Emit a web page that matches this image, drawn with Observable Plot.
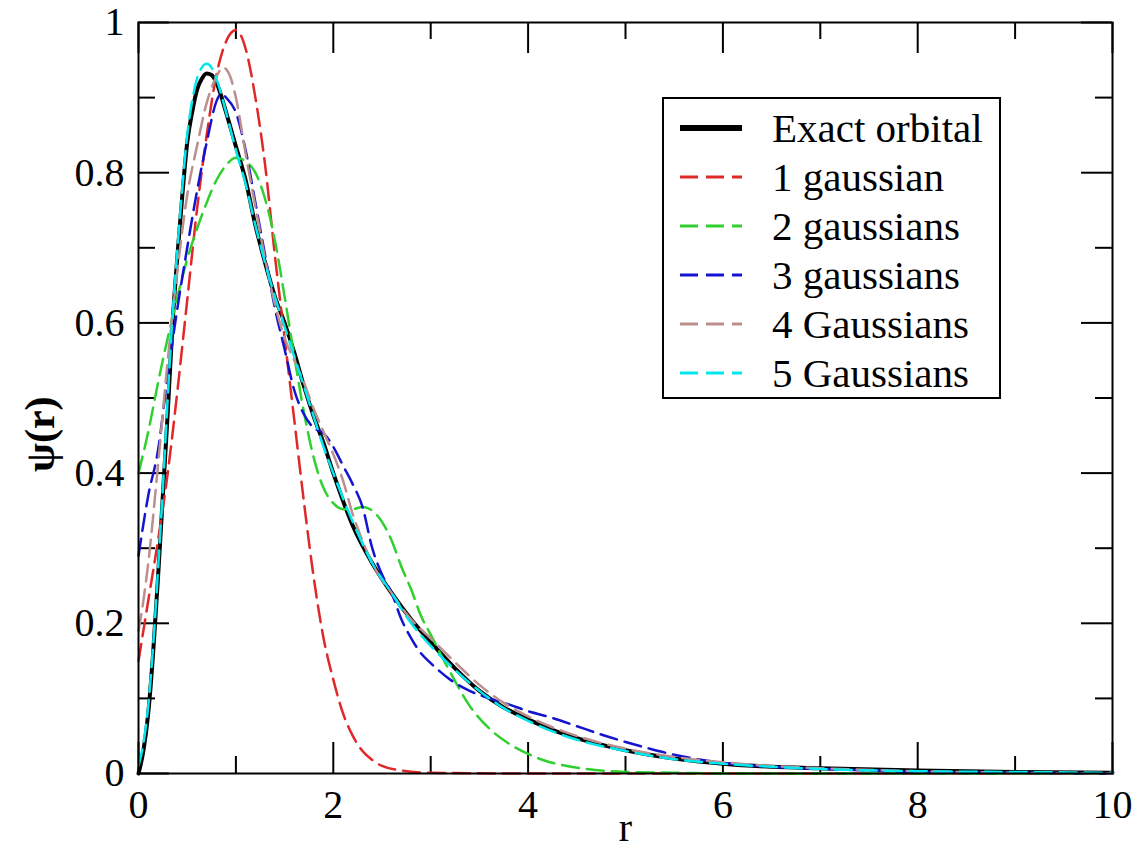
<!DOCTYPE html>
<html><head><meta charset="utf-8">
<script src="https://cdn.jsdelivr.net/npm/d3@7"></script>
<script src="https://cdn.jsdelivr.net/npm/@observablehq/plot@0.6"></script>
<style>body{margin:0;background:#fff}</style>
</head><body><div id="chart"></div>
<script>
const seriesNames = ["Exact orbital","1 gaussian","2 gaussians","3 gaussians","4 Gaussians","5 Gaussians"];
const seriesColors = ["#000000","#e02828","#30d030","#1414d0","#bc8f8f","#00e8ee"];
const xMajorTicks = [0,2,4,6,8,10];
const xMinorTicks = [1,3,5,7,9];
const yMajorTicks = [0,0.2,0.4,0.6,0.8,1];
const yMinorTicks = [0.1,0.3,0.5,0.7,0.9];

const rExact   = [0,0.05,0.1,0.15,0.2,0.25,0.3,0.35,0.4,0.45,0.5,0.55,0.6,0.65,0.7,0.75,0.8,0.9,1.0,1.1,1.2,1.3,1.4,1.5,1.6,1.7,1.8,1.9,2.0,2.2,2.4,2.6,2.8,3.0,3.25,3.5,3.75,4.0,4.25,4.5,5,5.5,6,6.5,7,8,9,10];
const psiExact = [0,0.03,0.08,0.16,0.26,0.37,0.48,0.6,0.69,0.77,0.84,0.88,0.91,0.925,0.932,0.93,0.92,0.88,0.835,0.79,0.73,0.68,0.635,0.6,0.56,0.515,0.475,0.44,0.4,0.33,0.28,0.24,0.205,0.175,0.14,0.11,0.088,0.072,0.058,0.047,0.031,0.02,0.013,0.009,0.007,0.004,0.002,0.001];

const rOne   = [0,0.1,0.2,0.3,0.4,0.5,0.6,0.7,0.8,0.9,1.0,1.1,1.2,1.3,1.4,1.5,1.6,1.7,1.8,1.9,2.0,2.1,2.2,2.3,2.4,2.5,2.7,3.0,4.0,10];
const psiOne = [0.15,0.23,0.31,0.4,0.51,0.63,0.75,0.85,0.93,0.975,0.99,0.965,0.9,0.81,0.69,0.58,0.47,0.36,0.26,0.18,0.125,0.08,0.05,0.03,0.018,0.01,0.004,0.001,0,0];

const rTwo   = [0,0.1,0.2,0.3,0.4,0.5,0.6,0.7,0.8,0.9,1.0,1.1,1.2,1.3,1.4,1.5,1.6,1.7,1.8,1.9,2.0,2.1,2.2,2.3,2.4,2.5,2.6,2.7,2.8,2.9,3.0,3.2,3.4,3.6,3.8,4.0,4.2,4.4,4.6,5.0,5.5,6,10];
const psiTwo = [0.40,0.455,0.52,0.58,0.635,0.685,0.725,0.76,0.79,0.81,0.82,0.815,0.8,0.765,0.71,0.635,0.555,0.48,0.42,0.38,0.36,0.352,0.352,0.355,0.35,0.335,0.31,0.275,0.245,0.21,0.185,0.135,0.09,0.06,0.04,0.026,0.016,0.01,0.006,0.002,0.001,0,0];

const rThree   = [0,0.1,0.2,0.3,0.4,0.5,0.6,0.7,0.8,0.85,0.9,1.0,1.1,1.2,1.3,1.4,1.5,1.6,1.7,1.8,1.9,2.0,2.1,2.2,2.3,2.4,2.5,2.6,2.7,2.8,2.9,3.0,3.2,3.4,3.6,3.8,4.0,4.25,4.5,4.75,5.0,5.25,5.5,6,6.5,7,7.5,8,9,10];
const psiThree = [0.29,0.37,0.43,0.53,0.62,0.7,0.775,0.84,0.895,0.905,0.9,0.88,0.83,0.76,0.69,0.62,0.565,0.51,0.478,0.46,0.453,0.435,0.41,0.385,0.355,0.3,0.265,0.24,0.205,0.18,0.16,0.147,0.125,0.11,0.1,0.092,0.083,0.074,0.063,0.052,0.042,0.033,0.025,0.014,0.009,0.006,0.004,0.002,0.001,0];

const rFour   = [0,0.05,0.1,0.2,0.3,0.4,0.5,0.6,0.7,0.8,0.87,0.95,1.0,1.1,1.2,1.3,1.4,1.5,1.6,1.7,1.8,1.9,2.0,2.1,2.2,2.3,2.4,2.6,2.8,3.0,3.25,3.5,3.75,4.0,4.5,5,5.5,6,6.5,7,8,9,10];
const psiFour = [0.19,0.23,0.28,0.41,0.55,0.67,0.77,0.835,0.893,0.928,0.94,0.925,0.9,0.825,0.755,0.685,0.625,0.58,0.55,0.52,0.485,0.455,0.425,0.39,0.345,0.31,0.28,0.24,0.205,0.18,0.148,0.118,0.094,0.076,0.05,0.033,0.022,0.015,0.01,0.007,0.003,0.001,0];

const rFive   = [0,0.05,0.1,0.15,0.2,0.25,0.3,0.35,0.4,0.45,0.5,0.55,0.6,0.65,0.7,0.75,0.8,0.9,1.0,1.1,1.2,1.3,1.4,1.5,1.6,1.7,1.8,1.9,2.0,2.2,2.4,2.6,2.8,3.0,3.25,3.5,3.75,4.0,4.25,4.5,5,5.5,6,6.5,7,8,9,10];
const psiFive = [0.01,0.04,0.09,0.17,0.27,0.38,0.5,0.61,0.7,0.78,0.85,0.895,0.925,0.94,0.945,0.94,0.925,0.88,0.83,0.785,0.73,0.68,0.635,0.595,0.555,0.515,0.475,0.435,0.4,0.335,0.28,0.24,0.2,0.17,0.138,0.11,0.087,0.07,0.056,0.045,0.03,0.019,0.013,0.009,0.006,0.003,0.002,0.001];

const rSets = [rExact,rOne,rTwo,rThree,rFour,rFive];
const psiSets = [psiExact,psiOne,psiTwo,psiThree,psiFour,psiFive];
const seriesData = rSets.map((rs,i)=>rs.map((r,j)=>({r, psi: psiSets[i][j], s: seriesNames[i]})));

const W=1148,H=851,mL=138,mR=36,mT=22,mB=78;
const ph=H-mT-mB, pw=W-mL-mR;
const majorLen=31, minorLen=17;
const dash="17,8";
const serif="'Liberation Serif', 'Times New Roman', serif";

const lineMarks = seriesData.map((d,i)=>Plot.line(d,{
  x:"r", y:"psi", curve:"monotone-x",
  stroke: seriesColors[i],
  strokeWidth: i===0 ? 4 : 2.5,
  strokeDasharray: i===0 ? null : dash
}));

const tickStyle={stroke:"#000",strokeWidth:2};
const plot = Plot.plot({
  width:W, height:H, marginLeft:mL, marginRight:mR, marginTop:mT, marginBottom:mB,
  style:{fontFamily:serif, fontSize:"40px", background:"#fff", color:"#000"},
  x:{domain:[0,10]}, y:{domain:[0,1]},
  marks:[
    Plot.ruleX(xMajorTicks,{x:d=>d, insetTop:ph-majorLen, ...tickStyle}),
    Plot.ruleX(xMajorTicks,{x:d=>d, insetBottom:ph-majorLen, ...tickStyle}),
    Plot.ruleX(xMinorTicks,{x:d=>d, insetTop:ph-minorLen, ...tickStyle}),
    Plot.ruleX(xMinorTicks,{x:d=>d, insetBottom:ph-minorLen, ...tickStyle}),
    Plot.ruleY(yMajorTicks,{y:d=>d, insetRight:pw-majorLen, ...tickStyle}),
    Plot.ruleY(yMajorTicks,{y:d=>d, insetLeft:pw-majorLen, ...tickStyle}),
    Plot.ruleY(yMinorTicks,{y:d=>d, insetRight:pw-minorLen, ...tickStyle}),
    Plot.ruleY(yMinorTicks,{y:d=>d, insetLeft:pw-minorLen, ...tickStyle}),
    ...lineMarks,
    Plot.frame({stroke:"#000", strokeWidth:2}),
    Plot.axisX(xMajorTicks,{tickSize:0, tickPadding:16, fontSize:40, label:null}),
    Plot.axisY(yMajorTicks,{tickSize:0, tickPadding:14, fontSize:40, tickFormat:d3.format("~g"), label:null}),
    Plot.text(["r"],{text:d=>d, frameAnchor:"bottom", dy:67, fontSize:40}),
    Plot.text(["ψ(r)"],{text:d=>d, frameAnchor:"left", rotate:-90, dx:-98, dy:74, fontSize:42, fontWeight:"bold"})
  ]
});

// legend
const svg = d3.select(plot);
const lg = svg.append("g").attr("class","legend").attr("text-anchor","start");
lg.append("rect").attr("x",663).attr("y",98).attr("width",337).attr("height",300)
  .attr("fill","#fff").attr("stroke","#000").attr("stroke-width",2);
seriesNames.forEach((name,i)=>{
  const cy = 128 + i*49;
  lg.append("line").attr("x1",680).attr("x2",742).attr("y1",cy).attr("y2",cy)
    .attr("stroke",seriesColors[i]).attr("stroke-width", i===0?6:3)
    .attr("stroke-dasharray", i===0?null:"18,8");
  lg.append("text").attr("x",772).attr("y",cy+14).attr("font-size",41)
    .attr("text-anchor","start")
    .attr("font-family",serif).attr("fill","#000").text(name);
});
document.getElementById("chart").appendChild(plot);
</script>
</body></html>
